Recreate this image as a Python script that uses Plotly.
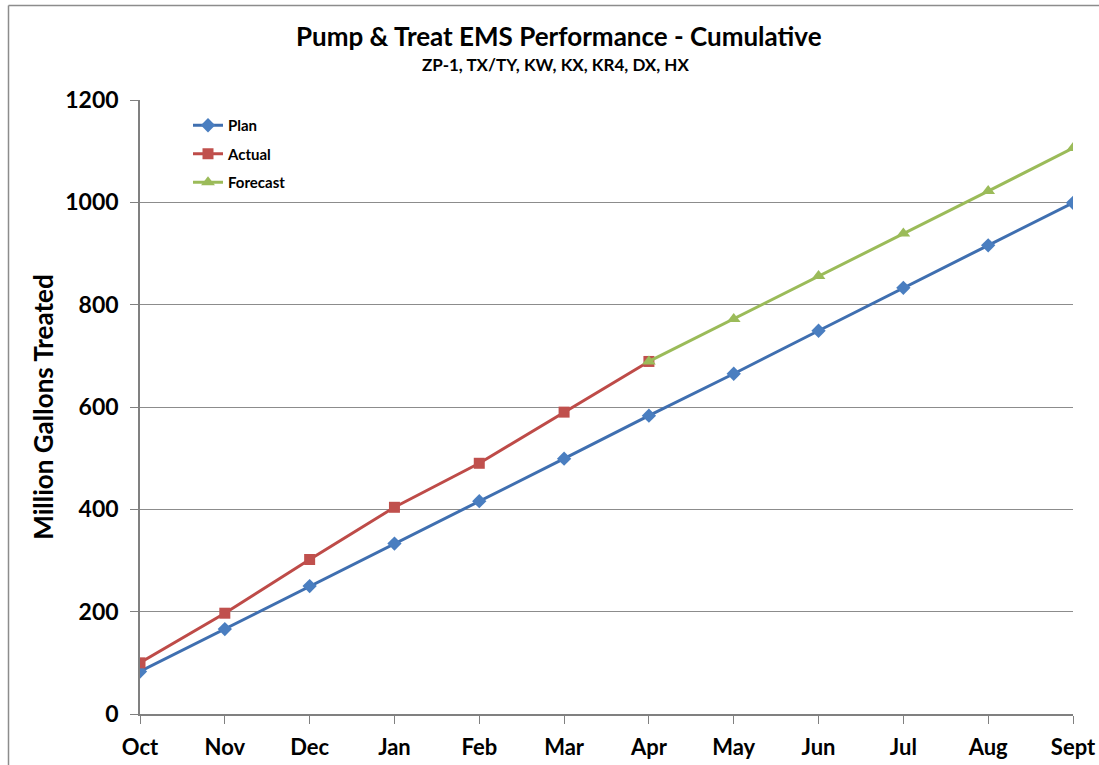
import plotly.graph_objects as go

months = ["Oct", "Nov", "Dec", "Jan", "Feb", "Mar", "Apr", "May", "Jun", "Jul", "Aug", "Sept"]
plan = [83, 166, 250, 333, 416, 499, 583, 665, 749, 833, 916, 999]
actual_months = months[:7]
actual = [100, 197, 302, 404, 490, 590, 689]
forecast_months = months[6:]
forecast = [689, 772, 856, 939, 1022, 1106]
y_ticks = [0, 200, 400, 600, 800, 1000, 1200]

FONT = "Lato, 'Open Sans', sans-serif"
BLUE = "#3F6FB0"
RED = "#BE4B48"
GREEN = "#9BBB59"

W, H = 1099, 765
L, T, B = 140, 100, 51
PW = 933
PH = 614
R = W - L - PW

def px(sx):  # screen x -> paper x
    return (sx - 140) / PW

def py(sy):  # screen y -> paper y
    return (714 - sy) / PH

fig = go.Figure()
fig.add_trace(go.Scatter(x=months, y=plan, name="Plan", mode="lines+markers", legendgroup="a",
                         line=dict(color=BLUE, width=3),
                         marker=dict(symbol="diamond", size=11, color="#4A7EC0")))
fig.add_trace(go.Scatter(x=actual_months, y=actual, name="Actual", mode="lines+markers", legendgroup="b",
                         line=dict(color=RED, width=3),
                         marker=dict(symbol="square", size=11, color="#C0504D")))
fig.add_trace(go.Scatter(x=forecast_months, y=forecast, name="Forecast", mode="lines+markers", legendgroup="c",
                         line=dict(color=GREEN, width=3),
                         marker=dict(symbol="triangle-up", size=12, color=GREEN)))

fig.update_layout(
    width=W, height=H,
    margin=dict(l=L, r=R, t=T, b=B),
    paper_bgcolor="white", plot_bgcolor="white",
    font=dict(family=FONT, color="black"),
    showlegend=True,
    legend=dict(x=px(188), y=py(109), xanchor="left", yanchor="top",
                bgcolor="rgba(0,0,0,0)", font=dict(size=15, family=FONT, weight="bold"),
                tracegroupgap=6, itemwidth=30),
    xaxis=dict(type="category", categoryorder="array", categoryarray=months, automargin=False,
               range=[0, 11], showgrid=False, showline=True, linecolor="#808080", linewidth=1.5,
               ticks="outside", ticklen=8, tickcolor="#808080", ticklabelstandoff=5,
               tickfont=dict(size=22, family=FONT, weight="bold"), zeroline=False),
    yaxis=dict(range=[0, 1200], tickvals=y_ticks, showgrid=True, gridcolor="#8C8C8C", gridwidth=1,
               automargin=False,
               showline=True, linecolor="#808080", linewidth=1.5,
               ticks="outside", ticklen=8, tickcolor="#808080", ticklabelstandoff=7,
               tickfont=dict(size=23, family=FONT, weight="bold"), zeroline=False,
               title=dict(text="<b>Million Gallons Treated</b>", font=dict(size=26, family=FONT),
                          standoff=4)),
    annotations=[
        dict(text="<b>Pump &amp; Treat EMS Performance - Cumulative</b>", xref="paper", yref="paper",
             x=px(559), y=py(36), xanchor="center", yanchor="middle", showarrow=False,
             font=dict(size=26, family=FONT)),
        dict(text="<b>ZP-1, TX/TY, KW, KX, KR4, DX, HX</b>", xref="paper", yref="paper",
             x=px(555), y=py(65), xanchor="center", yanchor="middle", showarrow=False,
             font=dict(size=17, family=FONT)),
    ],
)

# Outer chart-area frame
fig.add_shape(type="line", xref="paper", yref="paper",
              x0=px(8.5), x1=px(1099), y0=py(5.5), y1=py(5.5),
              line=dict(color="#8C8C8C", width=1.5))
fig.add_shape(type="line", xref="paper", yref="paper",
              x0=px(8.5), x1=px(8.5), y0=py(5.5), y1=py(765),
              line=dict(color="#8C8C8C", width=1.5))

fig.write_html("out.html", config={"displayModeBar": False},
               post_script="document.body.style.margin='0';document.body.style.overflow='hidden';")
